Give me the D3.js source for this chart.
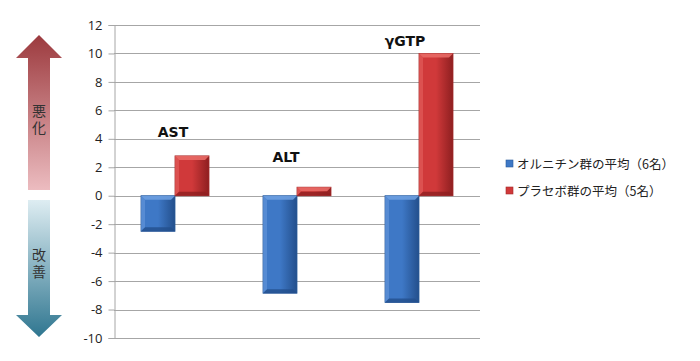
<!DOCTYPE html>
<html><head><meta charset="utf-8">
<script src="https://cdn.jsdelivr.net/npm/d3@7"></script>
<style>body{margin:0;background:#fff}svg{display:block}</style>
</head><body>
<svg id="c" width="700" height="361"></svg>
<script>
const categories = ["AST", "ALT", "γGTP"];
const seriesNames = ["オルニチン群の平均（6名）", "プラセボ群の平均（5名）"];
const ornithine = [-2.5, -6.85, -7.5];
const placebo = [2.8, 0.6, 10.0];
const yTicks = [12, 10, 8, 6, 4, 2, 0, -2, -4, -6, -8, -10];
const sideLabels = ["悪化", "改善"];

(function() {
const svg = d3.select("#c");
const mLeft = 114, mRight = 480, mTop = 25, mBottom = 338;
const y = d3.scaleLinear().domain([-10, 12]).range([mBottom, mTop]);
const x0 = d3.scaleBand().domain(categories).range([mLeft, mRight]).paddingInner(0).paddingOuter(0);
const x1 = d3.scaleBand().domain([0, 1]).range([27, x0.bandwidth() - 27]);
const colors = [
  {main: "#3e78c6", light: "#6d9ee0", dark: "#234f8c", edge: "#2a5a9a"},
  {main: "#d0393a", light: "#e86a66", dark: "#8e1f20", edge: "#a32a2a"}
];

const defs = svg.append("defs");
const gu = defs.append("linearGradient").attr("id", "gu").attr("x1", 0).attr("y1", 0).attr("x2", 0).attr("y2", 1);
gu.append("stop").attr("offset", 0).attr("stop-color", "#9c3a3e");
gu.append("stop").attr("offset", 1).attr("stop-color", "#ecbcc0");
const gd = defs.append("linearGradient").attr("id", "gd").attr("x1", 0).attr("y1", 0).attr("x2", 0).attr("y2", 1);
gd.append("stop").attr("offset", 0).attr("stop-color", "#deedf2");
gd.append("stop").attr("offset", 1).attr("stop-color", "#2f7690");
colors.forEach((c, i) => {
  const g = defs.append("linearGradient").attr("id", "bar" + i).attr("x1", 0).attr("y1", 0).attr("x2", 1).attr("y2", 0);
  g.append("stop").attr("offset", 0).attr("stop-color", c.main);
  g.append("stop").attr("offset", 0.5).attr("stop-color", c.main);
  g.append("stop").attr("offset", 1).attr("stop-color", c.dark);
});

svg.append("g").selectAll("line").data(yTicks).join("line")
  .attr("x1", mLeft).attr("x2", mRight)
  .attr("y1", d => Math.round(y(d)) + 0.5).attr("y2", d => Math.round(y(d)) + 0.5)
  .attr("stroke", "#a6a6a6").attr("stroke-width", 1);

const ax = svg.append("g").attr("transform", `translate(${mLeft + 0.5},0)`)
  .call(d3.axisLeft(y).tickValues(yTicks).tickSize(6).tickPadding(6).tickFormat(d => String(d)));
ax.select(".domain").attr("stroke", "#a6a6a6");
ax.selectAll(".tick line").attr("stroke", "#a6a6a6");
ax.selectAll("text").attr("font-family", "'Open Sans', 'Noto Sans', sans-serif")
  .attr("font-size", 13).attr("fill", "#222");

const data = [];
categories.forEach((c, i) => {
  data.push({cat: c, s: 0, v: ornithine[i]});
  data.push({cat: c, s: 1, v: placebo[i]});
});
const bars = svg.append("g").selectAll("g").data(data).join("g");
bars.each(function(d) {
  const g = d3.select(this);
  const bx = x0(d.cat) + x1(d.s);
  const bw = x1.bandwidth();
  const y0 = y(Math.max(0, d.v)), y1 = y(Math.min(0, d.v));
  const h = y1 - y0;
  const c = colors[d.s];
  g.append("rect").attr("x", bx).attr("y", y0).attr("width", bw).attr("height", h)
    .attr("fill", `url(#bar${d.s})`).attr("stroke", c.edge).attr("stroke-width", 0.8);
  const b = Math.min(4, h / 2);
  g.append("path").attr("d", `M${bx},${y0}L${bx + bw},${y0}L${bx + bw - b},${y0 + b}L${bx + b},${y0 + b}Z`)
    .attr("fill", c.light).attr("opacity", 0.9);
  g.append("path").attr("d", `M${bx},${y0}L${bx + b},${y0 + b}L${bx + b},${y1 - b}L${bx},${y1}Z`)
    .attr("fill", c.light).attr("opacity", 0.5);
  g.append("path").attr("d", `M${bx},${y1}L${bx + b},${y1 - b}L${bx + bw - b},${y1 - b}L${bx + bw},${y1}Z`)
    .attr("fill", c.dark).attr("opacity", 0.8);
});

const labelPos = [{dx: -2, v: 4.5}, {dx: -11, v: 2.7}, {dx: -14, v: 10.9}];
svg.append("g").selectAll("text").data(categories).join("text")
  .attr("x", (d, i) => x0(d) + x0.bandwidth() / 2 + labelPos[i].dx)
  .attr("y", (d, i) => y(labelPos[i].v) + 5)
  .attr("text-anchor", "middle")
  .attr("font-family", "Verdana, 'DejaVu Sans', sans-serif")
  .attr("font-weight", "bold").attr("font-size", 14).attr("fill", "#111")
  .text(d => d);

const ax0 = 39;
const up = `M${ax0},35 L${ax0 + 23},58 L${ax0 + 11},58 L${ax0 + 11},190 L${ax0 - 11},190 L${ax0 - 11},58 L${ax0 - 23},58 Z`;
svg.append("path").attr("d", up).attr("fill", "url(#gu)");
const dn = `M${ax0 - 11},200 L${ax0 + 11},200 L${ax0 + 11},315 L${ax0 + 23},315 L${ax0},337 L${ax0 - 23},315 L${ax0 - 11},315 Z`;
svg.append("path").attr("d", dn).attr("fill", "url(#gd)");
svg.append("g").selectAll("text").data(sideLabels).join("text")
  .attr("x", ax0).attr("y", (d, i) => i === 0 ? 104 : 248)
  .style("writing-mode", "vertical-rl")
  .attr("letter-spacing", 3)
  .attr("font-family", "'Noto Sans CJK JP', sans-serif").attr("font-size", 14).attr("fill", "#333")
  .text(d => d);

const lg = svg.append("g").selectAll("g").data(seriesNames).join("g")
  .attr("transform", (d, i) => `translate(506,${164 + i * 27})`);
lg.append("rect").attr("x", 0).attr("y", -4).attr("width", 7).attr("height", 7)
  .attr("fill", (d, i) => colors[i].main).attr("stroke", (d, i) => colors[i].edge).attr("stroke-width", 0.6);
lg.append("text").attr("x", 11).attr("y", 4.5)
  .attr("font-family", "'Noto Sans CJK JP', sans-serif").attr("font-size", 12.5).attr("fill", "#222")
  .text(d => d);
})();
</script>
</body></html>
